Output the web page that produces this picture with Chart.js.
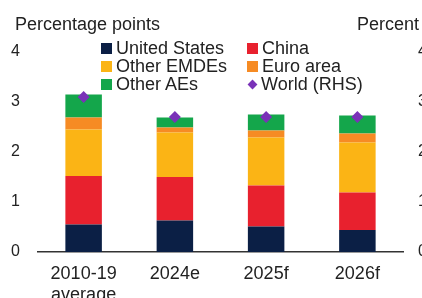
<!DOCTYPE html>
<html>
<head>
<meta charset="utf-8">
<script src="https://cdn.jsdelivr.net/npm/chart.js@4.4.1/dist/chart.umd.min.js"></script>
<style>
  html, body { margin: 0; padding: 0; background: #fff; }
  #wrap { position: relative; width: 422px; height: 298px; overflow: hidden; font-family: "Liberation Sans", Arial, sans-serif; color: #222; }
  #wrap canvas { position: absolute; left: 0; top: 0; }
  .ttl { position: absolute; font-size: 18px; line-height: 18px; white-space: nowrap; }
  .leg { position: absolute; font-size: 18px; line-height: 18px; white-space: nowrap; }
  .leg i { display: inline-block; width: 11px; height: 11px; margin-right: 4px; vertical-align: 0px; }
  .leg b { display: inline-block; width: 7px; height: 7px; margin: 0 5px 0 2px; transform: rotate(45deg); vertical-align: 2px; }
</style>
</head>
<body>
<div id="wrap">
  <canvas id="myChart" width="422" height="298"></canvas>
  <div class="ttl" style="left:15px; top:15px;">Percentage points</div>
  <div class="ttl" style="left:357px; top:15px;">Percent</div>
  <div id="legend"></div>
</div>
<script>
var categories = [["2010-19", "average"], "2024e", "2025f", "2026f"];
var unitedStates = [0.55, 0.63, 0.51, 0.44];
var china = [0.97, 0.87, 0.82, 0.75];
var otherEMDEs = [0.93, 0.89, 0.96, 1.00];
var euroArea = [0.24, 0.10, 0.14, 0.18];
var otherAEs = [0.46, 0.20, 0.32, 0.36];
var world = [3.1, 2.7, 2.7, 2.7];
var yTicks = [0, 1, 2, 3, 4];

var colors = {
  us: "#0b1f45",
  china: "#e8212e",
  emde: "#fbb415",
  euro: "#f68b24",
  aes: "#14a64b",
  world: "#7a32b8"
};

/* legend, 2 columns like the original */
var legendItems = [
  ["United States", colors.us, 101, 38.5],
  ["China", colors.china, 247, 38.5],
  ["Other EMDEs", colors.emde, 101, 56.5],
  ["Euro area", colors.euro, 247, 56.5],
  ["Other AEs", colors.aes, 101, 74.5],
  ["World (RHS)", colors.world, 247, 74.5]
];
var legendHtml = "";
legendItems.forEach(function (it, i) {
  var mark = i == 5 ? '<b style="background:' + it[1] + '"></b>' : '<i style="background:' + it[1] + '"></i>';
  legendHtml += '<div class="leg" style="left:' + it[2] + 'px; top:' + it[3] + 'px;">' + mark + it[0] + '</div>';
});
document.getElementById("legend").innerHTML = legendHtml;

function bar(label, data, color) {
  return {
    type: "bar",
    label: label,
    data: data,
    backgroundColor: color,
    yAxisID: "y",
    stack: "s",
    barPercentage: 0.4,
    categoryPercentage: 1,
    order: 2
  };
}

var canvas = document.getElementById("myChart");
var chart = new Chart(canvas, {
  data: {
    labels: categories,
    datasets: [
      bar("United States", unitedStates, colors.us),
      bar("China", china, colors.china),
      bar("Other EMDEs", otherEMDEs, colors.emde),
      bar("Euro area", euroArea, colors.euro),
      bar("Other AEs", otherAEs, colors.aes),
      {
        type: "line",
        label: "World (RHS)",
        data: world,
        yAxisID: "y2",
        showLine: false,
        pointStyle: "rectRot",
        pointRadius: 6,
        pointBackgroundColor: colors.world,
        pointBorderWidth: 0,
        order: 1
      }
    ]
  },
  options: {
    responsive: false,
    animation: false,
    layout: { padding: { top: 52, left: 0, right: 0, bottom: 0 } },
    plugins: { legend: { display: false }, title: { display: false }, tooltip: { enabled: false } },
    scales: {
      x: {
        stacked: true,
        grid: { display: false, drawTicks: false },
        border: { display: true, color: "#333", width: 1.5 },
        ticks: {
          color: "#222",
          font: { family: "Liberation Sans", size: 18 },
          padding: 11,
          maxRotation: 0
        },
        afterFit: function (s) { s.height = 46; }
      },
      y: {
        stacked: true,
        position: "left",
        min: 0,
        max: 4,
        afterBuildTicks: function (s) { s.ticks = yTicks.map(function (v) { return { value: v }; }); },
        grid: { display: false, drawTicks: false },
        border: { display: false },
        ticks: { color: "#222", font: { family: "Liberation Sans", size: 16 }, padding: 18 },
        afterFit: function (s) { s.width = 38; }
      },
      y2: {
        position: "right",
        min: 0,
        max: 4,
        afterBuildTicks: function (s) { s.ticks = yTicks.map(function (v) { return { value: v }; }); },
        grid: { display: false, drawTicks: false },
        border: { display: false },
        ticks: { color: "#222", font: { family: "Liberation Sans", size: 16 }, padding: 15 },
        afterFit: function (s) { s.width = 19; }
      }
    }
  }
});
</script>
</body>
</html>
